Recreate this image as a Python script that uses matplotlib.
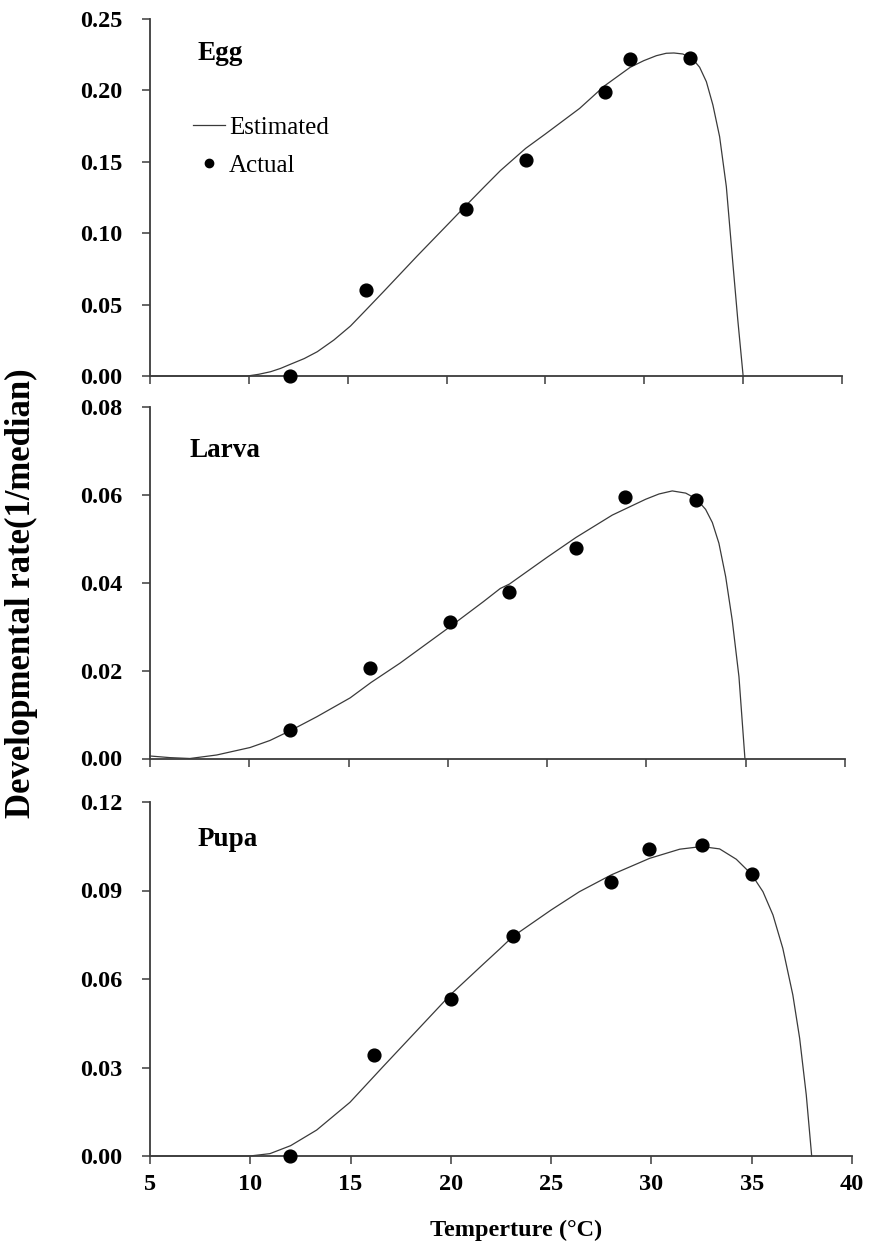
import matplotlib
matplotlib.use("Agg")
import matplotlib.pyplot as plt
from matplotlib.ticker import FormatStrFormatter, MultipleLocator
from matplotlib.lines import Line2D

plt.rcParams['font.family'] = ['Liberation Serif', 'DejaVu Serif']

# ---- observed development rates (1/median days) ----
egg_temp = [12.1, 15.9, 21.0, 24.0, 28.0, 29.3, 32.3]
egg_rate = [0.000, 0.060, 0.117, 0.1515, 0.199, 0.2217, 0.2227]

larva_temp = [12.05, 16.1, 20.1, 23.1, 26.45, 28.9, 32.5]
larva_rate = [0.0066, 0.0205, 0.031, 0.0378, 0.048, 0.0596, 0.0589]

pupa_temp = [12.0, 16.15, 20.0, 23.1, 28.0, 29.9, 32.5, 35.0]
pupa_rate = [0.000, 0.0341, 0.0532, 0.0745, 0.0928, 0.104, 0.1054, 0.0955]

# ---- estimated (model) curves ----
egg_fit_temp = [5.0, 9.93, 10.5, 11.1, 11.6, 12.1, 12.8, 13.46, 14.3, 15.14, 15.9,
                16.84, 18.51, 20.19, 21.04, 21.88, 22.72, 24.0, 25.0, 26.73,
                27.98, 29.29, 29.97, 30.61, 31.11, 31.5, 31.95, 32.46, 32.8,
                33.14, 33.47, 33.81, 34.15, 34.48, 34.73, 35.0]
egg_fit_rate = [0.0, 0.0, 0.0012, 0.003, 0.0053, 0.0082, 0.0122, 0.017, 0.0252,
                0.035, 0.0459, 0.0595, 0.084, 0.108, 0.1202, 0.1321, 0.1438,
                0.1594, 0.1695, 0.1874, 0.2031, 0.2162, 0.2208, 0.2243, 0.226,
                0.2262, 0.2255, 0.2218, 0.2162, 0.2061, 0.1898, 0.1676, 0.1326,
                0.0789, 0.0392, 0.0]

larva_fit_temp = [5.0, 6.0, 7.01, 8.36, 10.04, 11.04, 12.05, 13.4, 15.08, 16.13,
                  17.59, 20.08, 21.79, 22.64, 23.1, 25.0, 26.45, 28.28, 29.96,
                  30.63, 31.3, 31.98, 32.51, 32.98, 33.32, 33.65, 33.99, 34.32,
                  34.66, 34.96]
larva_fit_rate = [0.00057, 0.0002, 0.0, 0.0008, 0.0025, 0.0041, 0.0063, 0.0095,
                  0.0138, 0.0173, 0.0217, 0.0299, 0.0357, 0.0387, 0.0397, 0.0458,
                  0.0503, 0.0554, 0.059, 0.0602, 0.0609, 0.0604, 0.0591, 0.0567,
                  0.0537, 0.049, 0.0414, 0.0315, 0.0186, 0.0]

pupa_fit_temp = [5.0, 9.98, 10.98, 12.01, 13.31, 14.97, 16.62, 18.29, 20.0, 21.61,
                 22.44, 23.09, 25.0, 26.41, 28.0, 29.91, 31.41, 32.5, 33.4, 34.23,
                 34.99, 35.56, 36.06, 36.55, 37.05, 37.39, 37.72, 37.99]
pupa_fit_rate = [0.0, 0.0, 0.0008, 0.0035, 0.0088, 0.0182, 0.0303, 0.0424, 0.0548,
                 0.065, 0.0702, 0.0744, 0.0834, 0.0896, 0.0953, 0.1009, 0.104,
                 0.1049, 0.1041, 0.1006, 0.0955, 0.0896, 0.0817, 0.0704, 0.0546,
                 0.0399, 0.0207, 0.0]

stages = ["Egg", "Larva", "Pupa"]
y_limits = [0.25, 0.08, 0.12]
y_steps = [0.05, 0.02, 0.03]
x_ticks = [5, 10, 15, 20, 25, 30, 35, 40]

W, H = 870, 1257
fig = plt.figure(figsize=(W / 100, H / 100), dpi=100)

# panel frames in pixels: left, right, top, bottom
frames = [(150, 842, 19, 376), (150, 845, 407, 758.5), (150, 852, 802, 1156)]

observed = [(egg_temp, egg_rate), (larva_temp, larva_rate), (pupa_temp, pupa_rate)]
fitted = [(egg_fit_temp, egg_fit_rate), (larva_fit_temp, larva_fit_rate),
          (pupa_fit_temp, pupa_fit_rate)]
label_pos = [(198, 60), (190, 457), (198, 846)]

axis_col = '#3c3c3c'
line_col = '#3a3a3a'

for i, (l, r, t, b) in enumerate(frames):
    ax = fig.add_axes([l / W, (H - b) / H, (r - l) / W, (b - t) / H])
    ft, fr = fitted[i]
    ot, orate = observed[i]
    ax.plot(ft, fr, color=line_col, lw=0.9, clip_on=False, zorder=2,
            solid_joinstyle='round')
    ax.plot(ot, orate, 'o', color='black', ms=9.2, mec='black',
            clip_on=False, zorder=3, linestyle='none')
    ax.set_xlim(5, 40)
    ax.set_ylim(0, y_limits[i])
    ax.set_xticks(x_ticks)
    ax.yaxis.set_major_locator(MultipleLocator(y_steps[i]))
    ax.yaxis.set_major_formatter(FormatStrFormatter('%.2f'))
    for s in ['top', 'right']:
        ax.spines[s].set_visible(False)
    for s in ['left', 'bottom']:
        ax.spines[s].set_color(axis_col)
        ax.spines[s].set_linewidth(1.3)
    ax.tick_params(axis='both', direction='out', length=6, width=1.1,
                   color=axis_col, labelsize=17.5)
    ax.tick_params(axis='y', pad=14)
    ax.tick_params(axis='x', pad=7)
    for lab in ax.get_yticklabels() + ax.get_xticklabels():
        lab.set_fontweight('bold')
    if i < 2:
        ax.tick_params(axis='x', labelbottom=False)
    lx, ly = label_pos[i]
    fig.text(lx / W, 1 - ly / H, stages[i], fontsize=19.5, fontweight='bold',
             ha='left', va='baseline')
    if i == 0:
        h_line = Line2D([], [], color=line_col, lw=0.9)
        h_dot = Line2D([], [], marker='o', color='black', ms=6, linestyle='none')
        ax.legend([h_line, h_dot], ["Estimated", "Actual"], loc='upper left',
                  bbox_to_anchor=(0.062, 0.727), frameon=False, fontsize=18,
                  handlelength=1.3, handletextpad=0.15, labelspacing=0.62,
                  borderpad=0, borderaxespad=0)

fig.text(516 / W, 1 - 1230 / H, "Temperture (°C)", fontsize=17.5,
         fontweight='bold', ha='center', va='center')
fig.text(21 / W, 1 - 593 / H, "Developmental rate(1/median)", fontsize=25,
         fontweight='bold', ha='center', va='center', rotation=90)

fig.savefig("out.png", dpi=100, facecolor='white')
